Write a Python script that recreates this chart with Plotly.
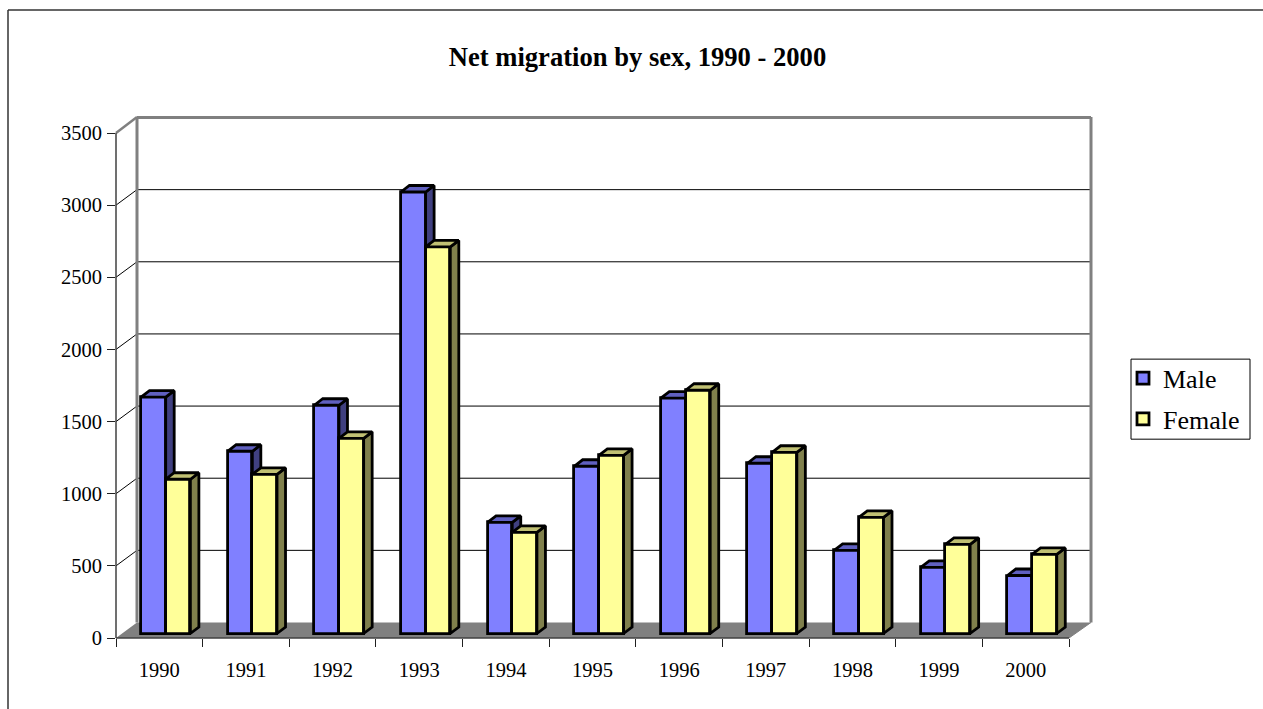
import plotly.graph_objects as go

years = ["1990", "1991", "1992", "1993", "1994", "1995", "1996", "1997", "1998", "1999", "2000"]
male = [1638, 1263, 1582, 3060, 770, 1159, 1631, 1180, 576, 458, 402]
female = [1069, 1103, 1353, 2679, 701, 1235, 1686, 1256, 805, 618, 548]
y_ticks = [0, 500, 1000, 1500, 2000, 2500, 3000, 3500]

# Frame geometry (pixels in the page)
L, R, T, B = 116.0, 1091.0, 117.0, 637.7
W, H = 1263, 709
PX_X = 86.64          # pixels per category
PX_Y = 0.1442         # pixels per data unit
XMAX = (R - L) / PX_X
YMAX = (B - T) / PX_Y
WALL_DX, WALL_DY = 21.0, 15.5
BAR_DX, BAR_DY = 8.5 / PX_X, 6.5 / PX_Y
BASE = 4.5 / PX_Y
BAR_W = 0.285
MALE_C, FEMALE_C = 0.431, 0.716


def px(x):
    return (x - L) / (W - L)


def py(y):
    return (B - y) / (B - T)


def faces(vals, centre):
    side_x, side_y, top_x, top_y = [], [], [], []
    for i, v in enumerate(vals):
        x0 = i + centre - BAR_W / 2
        x1 = i + centre + BAR_W / 2
        t = BASE + v
        side_x += [x1, x1 + BAR_DX, x1 + BAR_DX, x1, x1, None]
        side_y += [BASE, BASE + BAR_DY, t + BAR_DY, t, BASE, None]
        top_x += [x0, x0 + BAR_DX, x1 + BAR_DX, x1, x0, None]
        top_y += [t, t + BAR_DY, t + BAR_DY, t, t, None]
    return side_x, side_y, top_x, top_y


def series(name, vals, centre, front, side, top, xa, ya):
    sx, sy, tx, ty = faces(vals, centre)
    line = dict(color="black", width=2.8)
    common = dict(mode="lines", fill="toself", hoverinfo="skip", showlegend=False,
                  xaxis=xa, yaxis=ya, line=line)
    return [
        go.Bar(name=name, legendgroup=name, x=[i + centre for i in range(len(vals))], y=vals, base=BASE,
               width=BAR_W, marker=dict(color=front, line=line), xaxis=xa, yaxis=ya),
        go.Scatter(x=sx, y=sy, fillcolor=side, **common),
        go.Scatter(x=tx, y=ty, fillcolor=top, **common),
    ]


fig = go.Figure()
fig.add_traces(series("Male", male, MALE_C, "#8080FF", "#404080", "#6060C0", "x", "y"))
fig.add_traces(series("Female", female, FEMALE_C, "#FFFF99", "#80804C", "#C0C073", "x2", "y2"))

shapes = []


def seg(x0, y0, x1, y1, color, width):
    shapes.append(dict(type="line", xref="paper", yref="paper", layer="below",
                       x0=px(x0), y0=py(y0), x1=px(x1), y1=py(y1),
                       line=dict(color=color, width=width)))


# floor
shapes.append(dict(type="path", xref="paper", yref="paper", layer="below",
                   path=f"M {px(L)} {py(B)} L {px(1069)} {py(B)} L {px(R)} {py(B - WALL_DY)} "
                        f"L {px(R - 954)} {py(B - WALL_DY)} Z",
                   fillcolor="#808080", line=dict(width=0)))
# back wall grid lines and their returns on the side wall
for v in y_ticks[1:-1]:
    yy = B - v * PX_Y
    seg(L, yy, L + WALL_DX, yy - WALL_DY, "#000000", 1)
    seg(L + WALL_DX, yy - WALL_DY, R, yy - WALL_DY, "#000000", 1)
# wall frame
top = B - 3500 * PX_Y
seg(L + WALL_DX, T + 0.5, L + WALL_DX, B - WALL_DY, "#808080", 3)
seg(L + WALL_DX, T + 0.5, R, T + 0.5, "#808080", 3)
seg(R, T, R, B - WALL_DY, "#808080", 3)
seg(L, top, L + WALL_DX, T, "#808080", 2.5)
# front axes
seg(L, top, L, B, "#404040", 1.5)
seg(L, B, 1069, B, "#404040", 1.5)
seg(1069, B, R, B - WALL_DY, "#808080", 1)
# outer frame, runs off the page to the right and bottom
seg(8, 10, W + 10, 10, "#333333", 1.5)
seg(8, 10, 8, H + 10, "#333333", 1.5)
# legend box
shapes.append(dict(type="rect", xref="paper", yref="paper", layer="below",
                   x0=px(1131), y0=py(359), x1=px(1250), y1=py(439),
                   fillcolor="white", line=dict(color="black", width=1)))

font = dict(family="Liberation Serif", color="black")
fig.update_layout(
    width=W, height=H, autosize=False,
    margin=dict(l=L, r=0, t=T, b=H - B, pad=0),
    paper_bgcolor="white", plot_bgcolor="rgba(0,0,0,0)",
    barmode="overlay", bargap=0,
    font=dict(size=20.5, **font),
    title=dict(text="<b>Net migration by sex, 1990 - 2000</b>", font=dict(size=26.6, **font),
               x=637.5 / W, xanchor="center", xref="container",
               y=1 - 57 / H, yanchor="middle", yref="container"),
    shapes=shapes,
    xaxis=dict(domain=[0, (R - L) / (W - L)], range=[0, XMAX], showgrid=False, zeroline=False,
               showline=False, fixedrange=True,
               tickmode="array", tickvals=[i + 0.5 for i in range(len(years))], ticktext=years,
               ticks="", ticklen=0, ticklabelstandoff=17,
               minor=dict(tickmode="array", tickvals=list(range(len(years) + 1)), ticks="outside",
                          ticklen=8, tickwidth=1, tickcolor="#202020", showgrid=False)),
    yaxis=dict(range=[0, YMAX], showgrid=False, zeroline=False, showline=False, fixedrange=True,
               tickmode="array", tickvals=y_ticks, ticks="outside", ticklen=8, tickwidth=1,
               tickcolor="#202020", ticklabelstandoff=1),
    xaxis2=dict(domain=[0, (R - L) / (W - L)], range=[0, XMAX], overlaying="x", visible=False,
                fixedrange=True),
    yaxis2=dict(range=[0, YMAX], overlaying="y", visible=False, fixedrange=True),
    legend=dict(x=px(1123), y=py(354.5), xanchor="left", yanchor="top",
                bgcolor="rgba(0,0,0,0)", borderwidth=0, tracegroupgap=4,
                font=dict(size=26, **font), traceorder="grouped"),
)

fig.write_html("out.html", config=dict(displayModeBar=False),
               post_script="document.body.style.margin='0';document.body.style.overflow='hidden';")
